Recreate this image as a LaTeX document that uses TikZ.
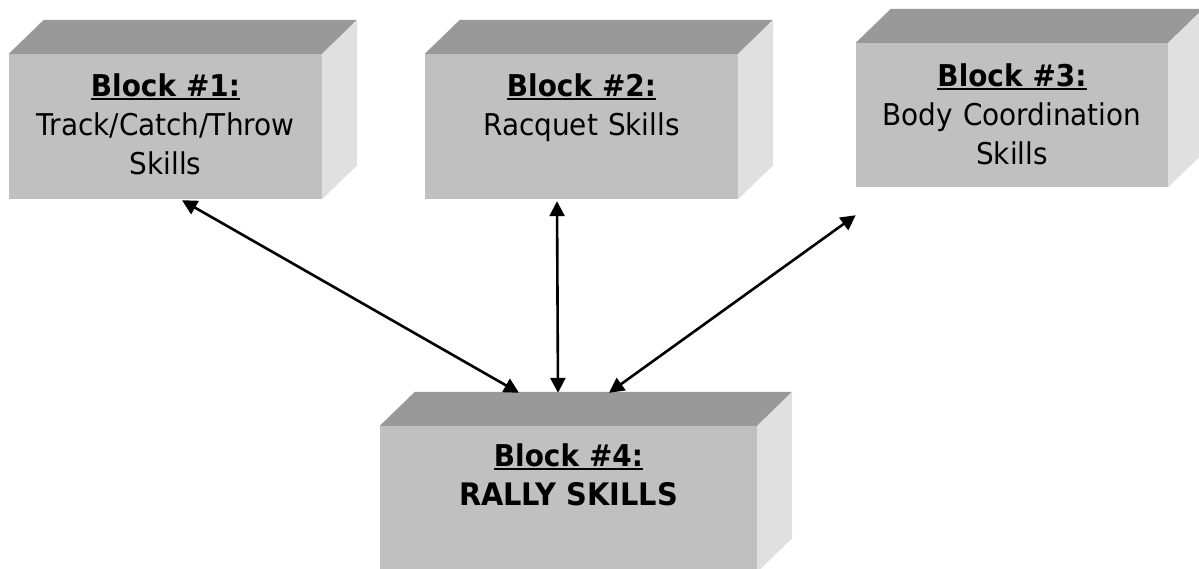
\documentclass[tikz,border=0pt]{standalone}
\usepackage{fontspec}
\setmainfont{DejaVu Sans}[FakeStretch=0.93]
\usetikzlibrary{positioning,arrows.meta}

\definecolor{frontgray}{HTML}{C0C0C0}
\definecolor{topgray}{HTML}{999999}
\definecolor{sidegray}{HTML}{E0E0E0}

\newcommand{\blockhead}[1]{\textbf{\setbox0=\hbox{#1}\rlap{\rule[-3pt]{\wd0}{2pt}}#1}}

\begin{document}
\begin{tikzpicture}[
    x=1pt,
    y=-1pt,
    face/.style={
      fill=frontgray,
      minimum height=145pt,
      inner sep=0pt
    },
    blocktext/.style={
      inner sep=0pt,
      align=center,
      text width=300pt,
      font=\fontsize{30}{39}\selectfont
    },
    link/.style={
      >={Triangle[length=15pt,width=15pt]},
      <->,
      line width=2.6pt
    }
  ]
    \clip (0, 0) rectangle (1199, 569);

    \node[face, minimum width=313pt] (blk1) at (165.5, 126.5) {};
    \node[face, minimum width=313pt] (blk2) at (581.5, 126.5) {};
    \node[face, minimum width=312pt, minimum height=144pt] (blk3) at (1012, 115) {};
    \node[face, minimum width=377pt, minimum height=146pt] (blk4) at (568.5, 499) {};

    \foreach \b in {blk1, blk2, blk3, blk4} {
      \fill[topgray] (\b.north west) -- ++(35pt, 34pt) -- ([shift={(35pt, 34pt)}]\b.north east) -- (\b.north east) -- cycle;
      \fill[sidegray] (\b.north east) -- ++(35pt, 34pt) -- ([shift={(35pt, 34pt)}]\b.south east) -- (\b.south east) -- cycle;
    }

    \node[blocktext, below=20pt of blk1.north] (txt1) {\blockhead{Block \#1:}\\Track/Catch/Throw\\Skills};
    \node[blocktext, below=20pt of blk2.north] (txt2) {\blockhead{Block \#2:}\\Racquet Skills};
    \node[blocktext, below=21pt of blk3.north] (txt3) {\blockhead{Block \#3:}\\Body Coordination\\Skills};
    \node[blocktext, below=18pt of blk4.north] (txt4) {\blockhead{Block \#4:}\\\textbf{\fontsize{31}{39}\selectfont RALLY SKILLS}};

    \draw[link] ([xshift=16.5pt, yshift=-1pt]blk1.south) -- ([xshift=-49.5pt, yshift=33pt]blk4.north);
    \draw[link] ([xshift=-24.5pt, yshift=-2pt]blk2.south) -- ([xshift=-10.5pt, yshift=33pt]blk4.north);
    \draw[link] ([yshift=-28pt]blk3.south west) -- ([xshift=40.5pt, yshift=33pt]blk4.north);
  \end{tikzpicture}
\end{document}
